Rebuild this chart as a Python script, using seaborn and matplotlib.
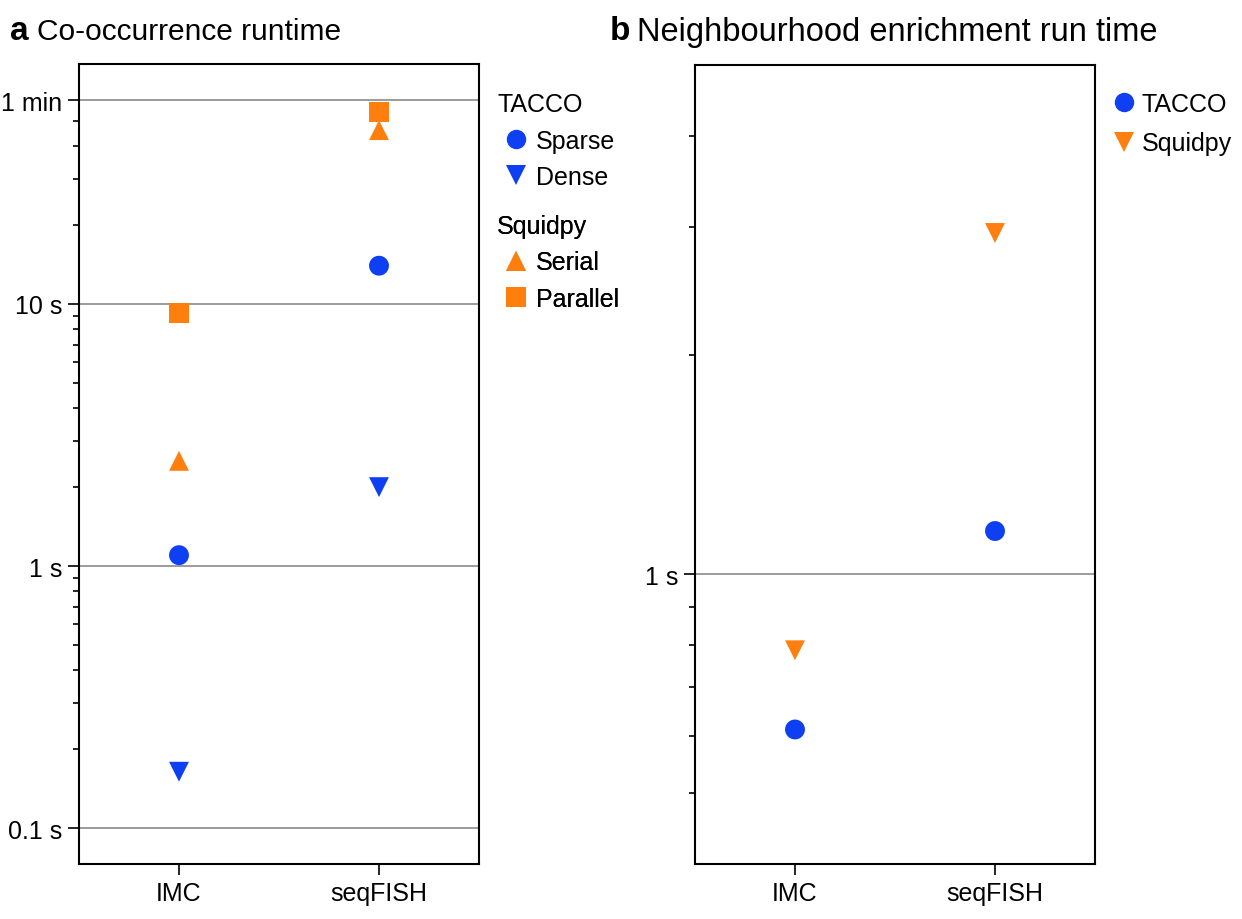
import numpy as np
import pandas as pd
import matplotlib
matplotlib.use("Agg")
import matplotlib.pyplot as plt
import seaborn as sns
from matplotlib.lines import Line2D

# ---------------- data ----------------
datasets = ["IMC", "seqFISH"]

# Panel a: co-occurrence runtime (seconds)
co_tacco_sparse = [1.10, 14.0]
co_tacco_dense = [0.164, 2.0]
co_squidpy_serial = [2.52, 46.1]
co_squidpy_parallel = [9.24, 54.1]

# Panel b: neighbourhood enrichment run time (seconds)
nh_tacco = [0.612, 1.146]
nh_squidpy = [0.786, 2.94]

a_ticks = [0.1, 1, 10, 60]
a_ticklabels = ["0.1 s", "1 s", "10 s", "1 min"]
b_ticks = [1]
b_ticklabels = ["1 s"]

BLUE = "#0f3ff2"
ORANGE = "#ff7f0e"

dfA = pd.DataFrame({
    "dataset": datasets * 4,
    "time": co_tacco_sparse + co_tacco_dense + co_squidpy_serial + co_squidpy_parallel,
    "variant": ["Sparse"] * 2 + ["Dense"] * 2 + ["Serial"] * 2 + ["Parallel"] * 2,
})
dfB = pd.DataFrame({
    "dataset": datasets * 2,
    "time": nh_tacco + nh_squidpy,
    "method": ["TACCO"] * 2 + ["Squidpy"] * 2,
})

sns.set_theme(style="white")
plt.rcParams['font.family'] = ['Liberation Sans', 'DejaVu Sans']
plt.rcParams['text.color'] = 'black'
plt.rcParams['axes.labelcolor'] = 'black'
plt.rcParams['xtick.color'] = 'black'
plt.rcParams['ytick.color'] = 'black'

FS_TICK = 18
FS_TITLE_A = 21.5
FS_TITLE_B = 23.5

fig = plt.figure(figsize=(12.42, 9.2), dpi=100)
axA = fig.add_axes([79 / 1242, 1 - 865 / 920, 400 / 1242, 800 / 920])
axB = fig.add_axes([695 / 1242, 1 - 865 / 920, 400 / 1242, 799 / 920])

paletteA = {"Sparse": BLUE, "Dense": BLUE, "Serial": ORANGE, "Parallel": ORANGE}
markersA = {"Sparse": "o", "Dense": "v", "Serial": "^", "Parallel": "s"}
sns.scatterplot(data=dfA, x="dataset", y="time", hue="variant", style="variant",
                palette=paletteA, markers=markersA, s=205, linewidth=0,
                legend=False, ax=axA, zorder=3)

paletteB = {"TACCO": BLUE, "Squidpy": ORANGE}
markersB = {"TACCO": "o", "Squidpy": "v"}
sns.scatterplot(data=dfB, x="dataset", y="time", hue="method", style="method",
                palette=paletteB, markers=markersB, s=205, linewidth=0,
                legend=False, ax=axB, zorder=3)


def style_axis(ax, ylim, majors, labels, minors):
    ax.set_yscale("log")
    ax.set_ylim(*ylim)
    ax.set_xlim(-0.5, 1.5)
    ax.set_yticks(majors)
    ax.set_yticklabels(labels)
    ax.set_yticks(minors, minor=True)
    ax.set_yticklabels([], minor=True)
    ax.set_xticks([0, 1])
    ax.set_xticklabels(datasets)
    ax.set_xlabel("")
    ax.set_ylabel("")
    for sp in ax.spines.values():
        sp.set_visible(True)
        sp.set_color("black")
        sp.set_linewidth(1.5)
    ax.tick_params(axis="both", which="major", direction="out", length=8, width=1.2,
                   color="black", labelsize=FS_TICK, labelcolor="black", pad=4,
                   left=True, bottom=True)
    ax.tick_params(axis="y", which="minor", direction="out", length=4, width=1.2,
                   color="black", left=True)
    ax.grid(False)
    for v in majors:
        ax.axhline(v, color="#8a8a8a", lw=1.2, zorder=1)


style_axis(axA, (0.0729, 82.4), a_ticks, a_ticklabels,
           [0.2, 0.3, 0.4, 0.5, 0.6, 0.7, 0.8, 0.9,
            2, 3, 4, 5, 6, 7, 8, 9, 20, 30, 40, 50])
style_axis(axB, (0.4, 5.0), b_ticks, b_ticklabels,
           [0.5, 0.6, 0.7, 0.8, 0.9, 2, 3, 4])

# Titles
fig.text(10 / 1242, 1 - 31 / 920, "a", fontsize=24, fontweight="bold", va="center", ha="left")
fig.text(37 / 1242, 1 - 32 / 920, "Co-occurrence runtime", fontsize=FS_TITLE_A, va="center", ha="left")
fig.text(610 / 1242, 1 - 31 / 920, "b", fontsize=24, fontweight="bold", va="center", ha="left")
fig.text(637 / 1242, 1 - 32 / 920, "Neighbourhood enrichment run time", fontsize=FS_TITLE_B, va="center", ha="left")


def h(marker, color):
    return Line2D([], [], marker=marker, color=color, linestyle="none", markersize=14,
                  markeredgewidth=0)


legkw = dict(frameon=False, fontsize=FS_TICK, title_fontsize=FS_TICK, loc="upper left",
             handletextpad=0.05, labelspacing=0.5, borderpad=0, borderaxespad=0,
             alignment="left", handlelength=1.5)
lg1 = axA.legend([h("o", BLUE), h("v", BLUE)], ["Sparse", "Dense"], title="TACCO",
                 bbox_to_anchor=(497 / 1242, 1 - 93 / 920),
                 bbox_transform=fig.transFigure, **legkw)
axA.add_artist(lg1)
lg2 = axA.legend([h("^", ORANGE), h("s", ORANGE)], ["Serial", "Parallel"], title="Squidpy",
                 bbox_to_anchor=(497 / 1242, 1 - 215 / 920),
                 bbox_transform=fig.transFigure, **legkw)
axA.add_artist(lg2)

lgB = axB.legend([h("o", BLUE), h("v", ORANGE)], ["TACCO", "Squidpy"],
                 bbox_to_anchor=(1108 / 1242, 1 - 93 / 920),
                 bbox_transform=fig.transFigure,
                 frameon=False, fontsize=FS_TICK, loc="upper left",
                 handletextpad=0.05, labelspacing=0.62, borderpad=0, borderaxespad=0,
                 handlelength=1.3)

fig.savefig("out.png", dpi=100)
